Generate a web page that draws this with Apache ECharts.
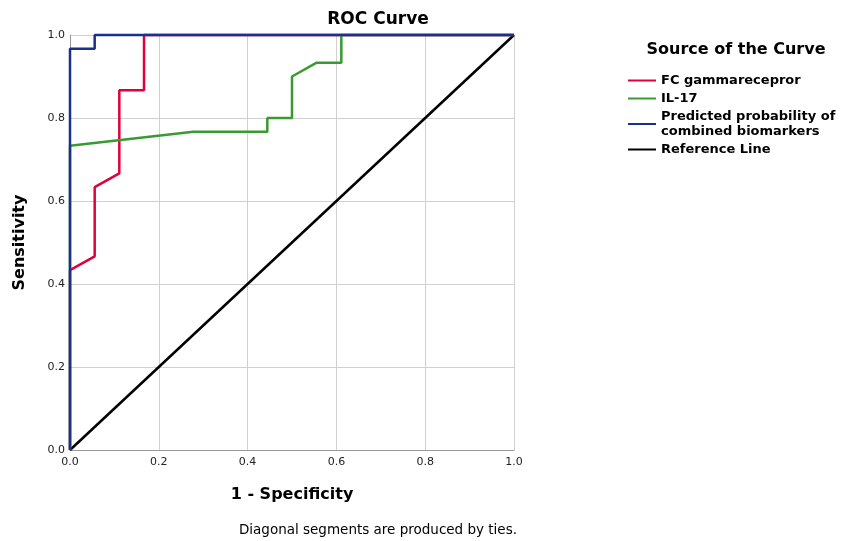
<!DOCTYPE html>
<html><head><meta charset="utf-8">
<script src="https://cdn.jsdelivr.net/npm/echarts@6/dist/echarts.min.js"></script>
<style>html,body{margin:0;padding:0;background:#fff}#c{width:841px;height:541px}</style>
</head><body><div id="c"></div>
<script>
const seriesNames = ['FC gammarecepror', 'IL-17', 'Predicted probability of\ncombined biomarkers', 'Reference Line'];
const fcX = [0, 0, 0.0556, 0.0556, 0.1111, 0.1111, 0.1667, 0.1667, 1];
const fcY = [0, 0.4333, 0.4667, 0.6333, 0.6667, 0.8667, 0.8667, 1, 1];
const il17X = [0, 0, 0.2778, 0.4444, 0.4444, 0.5, 0.5, 0.5556, 0.6111, 0.6111, 1];
const il17Y = [0, 0.7333, 0.7667, 0.7667, 0.8, 0.8, 0.9, 0.9333, 0.9333, 1, 1];
const combX = [0, 0, 0.0556, 0.0556, 1];
const combY = [0, 0.9667, 0.9667, 1, 1];
const refX = [0, 1];
const refY = [0, 1];
const tickValues = [0, 0.2, 0.4, 0.6, 0.8, 1.0];

const colors = ['#e0003c', '#3a9a30', '#1b2f8c', '#000000'];
const FONT = '"DejaVu Sans", Arial, sans-serif';
const pairs = (xs, ys) => xs.map((x, i) => [x, ys[i]]);
const allData = [pairs(fcX, fcY), pairs(il17X, il17Y), pairs(combX, combY), pairs(refX, refY)];

const chart = echarts.init(document.getElementById('c'), null, {renderer: 'canvas'});
const axisCommon = {
  type: 'value', min: 0, max: 1, interval: 0.2,
  axisLine: {show: true, lineStyle: {color: '#999', width: 1}},
  axisTick: {show: false},
  splitLine: {show: true, lineStyle: {color: '#d0d0d0', width: 1}},
  axisLabel: {color: '#222', fontSize: 11, fontFamily: FONT,
    formatter: v => tickValues.includes(+v.toFixed(1)) ? v.toFixed(1) : ''}
};
chart.setOption({
  animation: false,
  grid: {left: 70, right: 327, top: 35, bottom: 91, outerBoundsMode: 'none', containLabel: false},
  xAxis: Object.assign({}, axisCommon, {
    name: '1 - Specificity', nameLocation: 'middle', nameGap: 37,
    nameTextStyle: {fontSize: 16, fontWeight: 'bold', color: '#000', fontFamily: FONT},
    axisLabel: Object.assign({}, axisCommon.axisLabel, {margin: 7})
  }),
  yAxis: Object.assign({}, axisCommon, {
    name: 'Sensitivity', nameLocation: 'middle', nameGap: 42,
    nameTextStyle: {fontSize: 16, fontWeight: 'bold', color: '#000', fontFamily: FONT},
    axisLabel: Object.assign({}, axisCommon.axisLabel, {margin: 5})
  }),
  legend: {
    orient: 'vertical', left: 628, top: 73, padding: 0,
    itemWidth: 28, itemHeight: 12, itemGap: 3,
    icon: 'path://M0,5 L28,5 L28,7 L0,7 Z',
    data: seriesNames,
    textStyle: {fontSize: 13, fontWeight: 'bold', color: '#000', fontFamily: FONT, lineHeight: 15}
  },
  graphic: [
    {type: 'text', x: 378, y: 20, style: {text: 'ROC Curve', fill: '#000', font: 'bold 17px ' + FONT, textAlign: 'center', textVerticalAlign: 'middle'}},
    {type: 'text', x: 736, y: 50, style: {text: 'Source of the Curve', fill: '#000', font: 'bold 16px ' + FONT, textAlign: 'center', textVerticalAlign: 'middle'}},
    {type: 'text', x: 517, y: 530, style: {text: 'Diagonal segments are produced by ties.', fill: '#000', font: '13.5px ' + FONT, textAlign: 'right', textVerticalAlign: 'middle'}}
  ],
  series: seriesNames.map((n, i) => ({
    name: n, type: 'line', data: allData[i], symbol: 'none', clip: false,
    lineStyle: {color: colors[i], width: 2.5},
    itemStyle: {color: colors[i]},
    z: i === 3 ? 2 : 3 + i
  }))
});
</script></body></html>
